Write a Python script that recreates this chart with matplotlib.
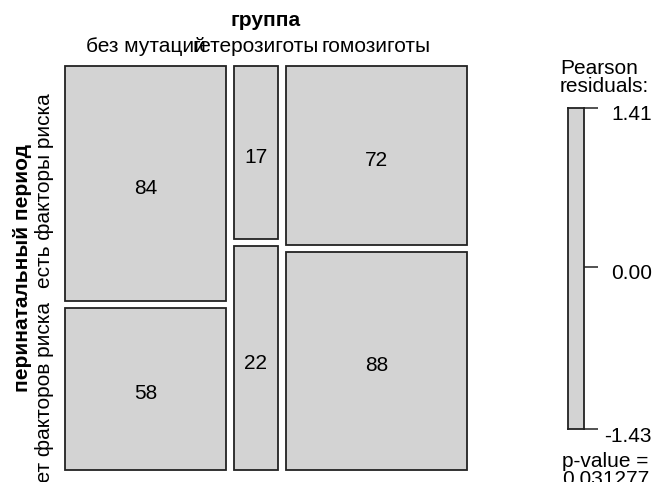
import numpy as np
import matplotlib
matplotlib.use("Agg")
import matplotlib.pyplot as plt
from matplotlib.patches import Rectangle
from matplotlib.transforms import offset_copy, blended_transform_factory

plt.rcParams['font.family'] = ['Liberation Sans', 'DejaVu Sans']

# данные
groups = ["без мутаций", "гетерозиготы", "гомозиготы"]
risk = ["есть факторы риска", "нет факторов риска"]
counts = np.array([[84, 17, 72],
                   [58, 22, 88]])

# Pearson residuals and chi-square p-value (df = 2 -> exp(-x/2))
row_tot = counts.sum(axis=1)
col_tot = counts.sum(axis=0)
total = counts.sum()
expected = np.outer(row_tot, col_tot) / total
resid = (counts - expected) / np.sqrt(expected)
chi2 = (resid ** 2).sum()
pval = np.exp(-chi2 / 2)

W, H = 653, 482
fig = plt.figure(figsize=(W / 100, H / 100), dpi=100)

# mosaic area in pixels
x0, x1, y0, y1 = 65, 467, 66, 470
ax = fig.add_axes([x0 / W, (H - y1) / H, (x1 - x0) / W, (y1 - y0) / H])
gx, gy = 0.02, 0.018
ax.set_xlim(0, 1 + gx * (len(groups) - 1))
ax.set_ylim(1 + gy * (len(risk) - 1), 0)
ax.axis('off')

fs = 15
row_shift = [-7, -9]
xpos = 0
for j in range(len(groups)):
    w = col_tot[j] / total
    ypos = 0
    for i in range(len(risk)):
        h = counts[i, j] / col_tot[j]
        ax.add_patch(Rectangle((xpos, ypos), w, h, facecolor='#d3d3d3',
                               edgecolor='#222222', lw=1.3, clip_on=False))
        tr = offset_copy(ax.transData, fig=fig, x=0, y=-5, units='dots')
        ax.text(xpos + w / 2, ypos + h / 2, str(counts[i, j]), ha='center',
                va='center', fontsize=fs, transform=tr)
        if j == 0:
            tr2 = offset_copy(ax.transData, fig=fig, x=0, y=row_shift[i], units='dots')
            ax.text((44 - x0) / (x1 - x0) * (1 + gx * 2), ypos + h / 2, risk[i],
                    rotation=90, ha='center', va='center', fontsize=fs,
                    transform=tr2, clip_on=False)
        ypos += h + gy
    ax.text(xpos + w / 2, 1 + 19 / (y1 - y0), groups[j], ha='center', va='center',
            fontsize=fs, transform=ax.get_xaxis_transform())
    xpos += w + gx

ax.text(0.5, 1 + 45 / (y1 - y0), "группа", ha='center', va='center',
        fontsize=fs, fontweight='bold', transform=ax.transAxes)
ax.text((22 - x0) / (x1 - x0), 0.5, "перинатальный период", ha='center',
        va='center', rotation=90, fontsize=fs, fontweight='bold',
        transform=ax.transAxes)

# legend bar
lx0, lx1, ly0, ly1 = 568, 584, 108, 429
lax = fig.add_axes([lx0 / W, (H - ly1) / H, (lx1 - lx0) / W, (ly1 - ly0) / H])
rmin, rmax = resid.min(), resid.max()
lax.set_ylim(rmin, rmax)
lax.set_xlim(0, 1)
lax.axhspan(rmin, rmax, color='#d3d3d3')
for s in lax.spines.values():
    s.set_color('#222222')
    s.set_linewidth(1.3)
lax.set_xticks([])
lax.yaxis.tick_right()
lax.set_yticks([rmin, 0, rmax])
lax.set_yticklabels([])
lax.tick_params(axis='y', length=10, width=1.1, color='#222222')

bt = blended_transform_factory(lax.transAxes, lax.transData)
leg_labels = [(rmax, "%.2f" % rmax, -6), (0, "0.00", -6), (rmin, "%.2f" % rmin, -8)]
for val, lab, dy in leg_labels:
    lax.text(1 + (652 - lx1) / (lx1 - lx0), val, lab, ha='right', va='center',
             fontsize=fs,
             transform=offset_copy(bt, fig=fig, x=0, y=dy, units='dots'))

fig.text(560 / W, 1 - 74 / H, "Pearson", ha='left', va='baseline', fontsize=fs)
fig.text(560 / W, 1 - 92 / H, "residuals:", ha='left', va='baseline', fontsize=fs)
fig.text(562 / W, 1 - 467 / H, "p-value =", ha='left', va='baseline', fontsize=fs)
fig.text(562 / W, 1 - 485 / H, "%.6f" % pval, ha='left', va='baseline', fontsize=fs)

fig.savefig("out.png", dpi=100)
